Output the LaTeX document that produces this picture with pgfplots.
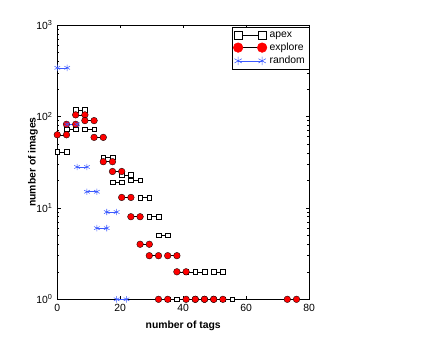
\documentclass[border=0pt]{standalone}
\usepackage{fontspec}
\setmainfont{Liberation Sans}
\usepackage{pgfplots}
\pgfplotsset{compat=1.18}
\definecolor{rndblue}{RGB}{60,90,255}
\begin{document}
\begin{tikzpicture}
\begin{axis}[
  scale only axis,
  width=189pt, height=205.9pt,
  xmin=0, xmax=80, ymin=1, ymax=1000,
  ymode=log,
  xtick={0,20,40,60,80},
  ytick={1,10,100,1000},
  yticklabels={10\textsuperscript{0},10\textsuperscript{1},10\textsuperscript{2},10\textsuperscript{3}},
  minor ytick={2,3,4,5,6,7,8,9,20,30,40,50,60,70,80,90,200,300,400,500,600,700,800,900},
  /pgf/number format/assume math mode=true,
  tick align=inside,
  major tick length=2.5pt, minor tick length=1.5pt,
  every tick/.style={black, line width=0.4pt},
  axis line style={line width=0.5pt},
  tick label style={font=\fontsize{7.8}{9}\selectfont},
  label style={font=\fontsize{7.8}{9}\selectfont\bfseries},
  xlabel={number of tags}, ylabel={number of images},
  ylabel shift=-8pt,
  clip=false,
  unbounded coords=jump,
  legend style={at={(1,1)}, anchor=north east, yshift=-1.7pt,
    draw=black, line width=0.4pt, font=\fontsize{7.8}{9}\selectfont,
    inner xsep=1pt, inner ysep=1pt, row sep=-1.2pt, cells={anchor=west}},
  legend image code/.code={
    \draw[mark repeat=2,mark phase=1,#1] plot coordinates {(0pt,0pt) (9pt,0pt) (18pt,0pt)};
  },
]
\coordinate (bl) at (rel axis cs:0,0);
\coordinate (tr) at (rel axis cs:1,1);

\addlegendimage{black, line width=0.4pt, mark=square*, mark size=3pt, mark options={fill=white, draw=black}}
\addlegendentry{apex}
\addlegendimage{black, line width=0.4pt, mark=*, mark size=3.6pt, mark options={fill=red, draw=red}}
\addlegendentry{explore}
\addlegendimage{rndblue, line width=0.4pt, mark=asterisk, mark size=3.2pt}
\addlegendentry{random}

% apex
\addplot[forget plot, black, line width=0.4pt, mark=square*, mark size=1.7pt,
  mark options={fill=white, draw=black, line width=0.3pt}] coordinates {
  (0,41) (2.923,41) (2.923,nan)
  (2.923,72.5) (5.846,72.5) (5.846,nan)
  (5.846,118) (8.769,118) (8.769,nan)
  (8.769,72.5) (11.692,72.5) (11.692,nan)
  (14.615,36) (17.538,36) (17.538,nan)
  (17.538,19) (20.462,19) (20.462,nan)
  (20.462,23) (23.385,23) (23.385,nan)
  (23.385,20) (26.308,20) (26.308,nan)
  (26.308,13) (29.231,13) (29.231,nan)
  (29.231,8) (32.154,8) (32.154,nan)
  (32.154,5) (35.077,5) (35.077,nan)
  (35.077,1) (38.0,1) (38.0,nan)
  (40.923,2) (43.846,2) (43.846,nan)
  (43.846,2) (46.769,2) (46.769,nan)
  (49.692,2) (52.615,2) (52.615,nan)
  (52.615,1) (55.538,1)
};

% explore
\addplot[forget plot, black, line width=0.4pt, mark=*, mark size=2.5pt,
  mark options={fill=red, draw=black, line width=0.25pt}] coordinates {
  (0,63) (2.923,63) (2.923,nan)
  (2.923,82) (5.846,82) (5.846,nan)
  (5.846,104) (8.769,104) (8.769,nan)
  (8.769,90) (11.692,90) (11.692,nan)
  (11.692,59) (14.615,59) (14.615,nan)
  (14.615,32) (17.538,32) (17.538,nan)
  (17.538,25) (20.462,25) (20.462,nan)
  (20.462,13) (23.385,13) (23.385,nan)
  (23.385,8) (26.308,8) (26.308,nan)
  (26.308,4) (29.231,4) (29.231,nan)
  (29.231,3) (32.154,3) (32.154,nan)
  (32.154,1) (35.077,1) (35.077,nan)
  (35.077,3) (38.0,3) (38.0,nan)
  (38.0,2) (40.923,2) (40.923,nan)
  (40.923,1) (43.846,1) (43.846,nan)
  (43.846,1) (46.769,1) (46.769,nan)
  (46.769,1) (49.692,1) (49.692,nan)
  (49.692,1) (52.615,1) (52.615,nan)
  (73.077,1) (76.0,1)
};

% random
\addplot[forget plot, rndblue, line width=0.4pt, mark=asterisk, mark size=2.4pt] coordinates {
  (0,340) (3.143,340) (3.143,nan)
  (3.143,82) (6.286,82) (6.286,nan)
  (6.286,28) (9.429,28) (9.429,nan)
  (9.429,15) (12.571,15) (12.571,nan)
  (12.571,6) (15.714,6) (15.714,nan)
  (15.714,9) (18.857,9) (18.857,nan)
  (18.857,1) (22.0,1)
};
\end{axis}
\path ([shift={(-43pt,-28.9pt)}]bl) rectangle ([shift={(100.5pt,18.75pt)}]tr);
\end{tikzpicture}
\end{document}
